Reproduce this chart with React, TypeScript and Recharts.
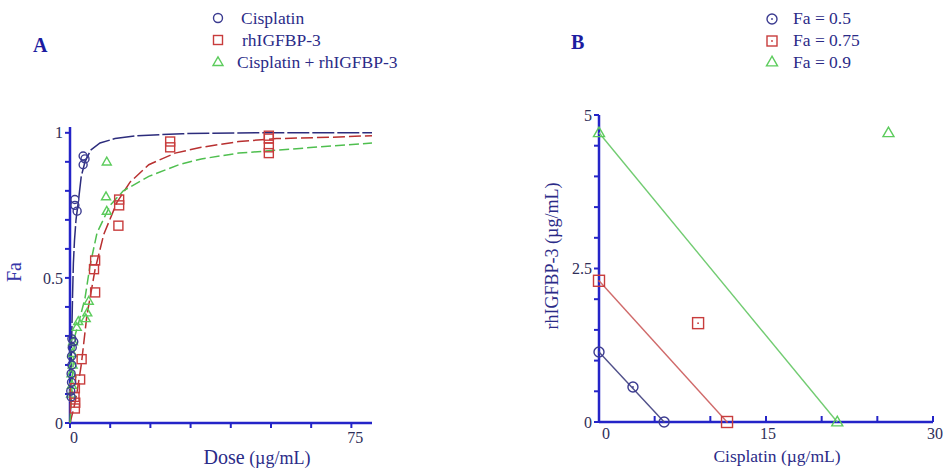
import React from 'react';
import { ScatterChart, Scatter, XAxis, YAxis } from 'recharts';

// ---------- Panel A data (dose µg/mL, Fa) ----------
const cisplatinPoints: [number, number][] = [
  [0.3, 0.09], [0.2, 0.11], [0.4, 0.14], [0.3, 0.17], [0.5, 0.2], [0.4, 0.23],
  [0.6, 0.26], [0.5, 0.29], [1.0, 0.28], [1.3, 0.77], [1.3, 0.75], [1.9, 0.73],
  [3.5, 0.92], [4.0, 0.91], [3.5, 0.89],
];
const rhigfbpPoints: [number, number][] = [
  [1.3, 0.05], [1.4, 0.07], [1.2, 0.09], [1.3, 0.12], [2.7, 0.15], [3.1, 0.22],
  [6.7, 0.56], [6.4, 0.53], [6.7, 0.45], [13.1, 0.77], [13.1, 0.75], [12.9, 0.68],
  [26.7, 0.97], [26.7, 0.95], [53, 0.99], [53, 0.98], [53, 0.95], [53, 0.93],
];
const comboPoints: [number, number][] = [
  [0.3, 0.1], [0.5, 0.13], [0.4, 0.17], [0.7, 0.2], [0.6, 0.24], [0.8, 0.28],
  [1.8, 0.33], [2.2, 0.35], [4.2, 0.36], [4.6, 0.38], [5.0, 0.42],
  [9.8, 0.73], [9.6, 0.78], [9.8, 0.9],
];
const cisplatinCurve: [number, number][] = [
  [0, 0], [0.1, 0.05], [0.3, 0.2], [0.5, 0.32], [0.7, 0.45], [0.9, 0.55], [1.2, 0.63],
  [1.6, 0.7], [2.2, 0.76], [3, 0.85], [4, 0.9], [5.5, 0.94], [8, 0.965], [12, 0.98],
  [18, 0.99], [30, 0.997], [50, 1], [80.5, 1],
];
const rhigfbpCurve: [number, number][] = [
  [0, 0], [1, 0.05], [1.8, 0.1], [3, 0.2], [4.5, 0.37], [6.7, 0.53], [9, 0.65],
  [12.5, 0.76], [16, 0.83], [21, 0.89], [28, 0.93], [35, 0.95], [45, 0.97],
  [55, 0.98], [70, 0.985], [80.5, 0.99],
];
const comboCurve: [number, number][] = [
  [0, 0], [0.2, 0.05], [0.5, 0.12], [0.9, 0.22], [1.3, 0.3], [2.2, 0.34], [4, 0.43],
  [5.3, 0.54], [7.2, 0.655], [10.7, 0.75], [14.2, 0.8], [21, 0.85], [29, 0.89],
  [35, 0.91], [45, 0.93], [55, 0.94], [70, 0.955], [80.5, 0.965],
];
const A_X_TICKS = [0, 10.714, 21.429, 32.143, 42.857, 53.571, 64.286, 75];
const A_X_LABELS = [0, 75];
const A_Y_TICKS = [0, 0.1, 0.2, 0.3, 0.4, 0.5, 0.6, 0.7, 0.8, 0.9, 1];
const A_Y_LABELS = [0, 0.5, 1];

// ---------- Panel B data (cisplatin µg/mL, rhIGFBP-3 µg/mL) ----------
const fa50Points: [number, number][] = [[0, 1.14], [3.05, 0.57], [5.85, 0]];
const fa75Points: [number, number][] = [[0, 2.3], [8.9, 1.61], [11.5, 0]];
const fa90Points: [number, number][] = [[0, 4.71], [26.0, 4.71], [21.4, 0]];
const fa50Line: [number, number][] = [[0, 1.14], [5.85, 0]];
const fa75Line: [number, number][] = [[0, 2.3], [11.5, 0]];
const fa90Line: [number, number][] = [[0, 4.71], [21.4, 0]];
const B_X_TICKS = [0, 5, 10, 15, 20, 25, 30];
const B_X_LABELS = [0, 15, 30];
const B_Y_TICKS = [0, 0.5, 1, 1.5, 2, 2.5, 3, 3.5, 4, 4.5, 5];
const B_Y_LABELS = [0, 2.5, 5];

const toXY = (a: [number, number][]) => a.map(([x, y]) => ({ x, y }));

const AXIS = '#2424c8';
const TICK_TXT = '#2e2e58';
const NAVY_TXT = '#2b2b88';
const C_BLUE = '#3b3b90';
const C_RED = '#c83c3c';
const C_GREEN = '#5ccc5c';
const FONT = '"Liberation Serif", "Times New Roman", serif';

const fmt = (labels: number[]) => (v: number) =>
  labels.some((l) => Math.abs(l - v) < 1e-6) ? String(v) : '';

const Hidden = () => <g />;

const circleShape = (color: string, r: number, dot: boolean) => (p: any) => {
  const { cx, cy } = p;
  if (cx == null || cy == null) return <g />;
  return (
    <g>
      <circle cx={cx} cy={cy} r={r} fill="none" stroke={color} strokeWidth={1.4} />
      {dot && <circle cx={cx} cy={cy} r={0.9} fill={color} />}
    </g>
  );
};
const squareShape = (color: string, s: number, dot: boolean) => (p: any) => {
  const { cx, cy } = p;
  if (cx == null || cy == null) return <g />;
  return (
    <g>
      <rect x={cx - s / 2} y={cy - s / 2} width={s} height={s} fill="none" stroke={color} strokeWidth={1.4} />
      {dot && <circle cx={cx} cy={cy} r={0.9} fill={color} />}
    </g>
  );
};
const triShape = (color: string, s: number) => (p: any) => {
  const { cx, cy } = p;
  if (cx == null || cy == null) return <g />;
  const h = s * 0.87;
  return (
    <polygon
      points={`${cx},${cy - h * 0.6} ${cx - s / 2},${cy + h * 0.4} ${cx + s / 2},${cy + h * 0.4}`}
      fill="none"
      stroke={color}
      strokeWidth={1.4}
    />
  );
};

const BXTick = (props: any) => {
  const { x, y, payload } = props;
  const label = fmt(B_X_LABELS)(payload.value);
  return (
    <g>
      <line x1={x} y1={y} x2={x} y2={y - 6} stroke={AXIS} strokeWidth={2} />
      {label !== '' && (
        <text x={x + (payload.value === 0 ? 7 : 2)} y={y + 17} textAnchor="middle" fontSize={16} fill={TICK_TXT} fontFamily={FONT}>
          {label}
        </text>
      )}
    </g>
  );
};

export default function App() {
  return (
    <div style={{ position: 'absolute', left: 0, top: 0, width: 943, height: 470, background: '#fff', fontFamily: FONT }}>
      {/* Panel A */}
      <div style={{ position: 'absolute', left: 0, top: 0 }}>
        <ScatterChart width={400} height={470} margin={{ top: 127, right: 28, bottom: 7, left: 40 }}>
          <XAxis
            type="number"
            dataKey="x"
            domain={[0, 80.5]}
            ticks={A_X_TICKS}
            interval={0}
            tickFormatter={fmt(A_X_LABELS)}
            axisLine={{ stroke: AXIS, strokeWidth: 2.5 }}
            tickLine={{ stroke: AXIS, strokeWidth: 2 }}
            tickSize={5}
            tickMargin={4}
            height={40}
            tick={{ fontSize: 16, fill: TICK_TXT, fontFamily: FONT, dx: 4 }}
          />
          <YAxis
            type="number"
            dataKey="y"
            domain={[0, 1.02]}
            ticks={A_Y_TICKS}
            interval={0}
            tickFormatter={fmt(A_Y_LABELS)}
            axisLine={{ stroke: AXIS, strokeWidth: 2.5 }}
            tickLine={{ stroke: AXIS, strokeWidth: 2 }}
            tickSize={5}
            tickMargin={2}
            width={30}
            tick={{ fontSize: 16, fill: TICK_TXT, fontFamily: FONT }}
          />
          <Scatter data={toXY(cisplatinCurve)} line={{ stroke: '#2c2c7c', strokeWidth: 1.5, strokeDasharray: '22 3' }} lineType="joint" shape={Hidden} isAnimationActive={false} />
          <Scatter data={toXY(rhigfbpCurve)} line={{ stroke: '#b83030', strokeWidth: 1.5, strokeDasharray: '12 4' }} lineType="joint" shape={Hidden} isAnimationActive={false} />
          <Scatter data={toXY(comboCurve)} line={{ stroke: '#4fbf4f', strokeWidth: 1.5, strokeDasharray: '10 4' }} lineType="joint" shape={Hidden} isAnimationActive={false} />
          <Scatter data={toXY(comboPoints)} shape={triShape(C_GREEN, 9)} isAnimationActive={false} />
          <Scatter data={toXY(rhigfbpPoints)} shape={squareShape(C_RED, 9, false)} isAnimationActive={false} />
          <Scatter data={toXY(cisplatinPoints)} shape={circleShape(C_BLUE, 4, false)} isAnimationActive={false} />
        </ScatterChart>
      </div>

      {/* Panel B */}
      <div style={{ position: 'absolute', left: 520, top: 0 }}>
        <ScatterChart width={423} height={470} margin={{ top: 115, right: 10, bottom: 8, left: 49 }}>
          <XAxis
            type="number"
            dataKey="x"
            domain={[0, 30]}
            ticks={B_X_TICKS}
            interval={0}
            axisLine={{ stroke: AXIS, strokeWidth: 2.5 }}
            tickLine={false}
            tickSize={0}
            tickMargin={0}
            height={40}
            tick={<BXTick />}
          />
          <YAxis
            type="number"
            dataKey="y"
            domain={[0, 5]}
            ticks={B_Y_TICKS}
            interval={0}
            tickFormatter={fmt(B_Y_LABELS)}
            axisLine={{ stroke: AXIS, strokeWidth: 2.5 }}
            tickLine={{ stroke: AXIS, strokeWidth: 2 }}
            tickSize={5}
            tickMargin={2}
            width={30}
            tick={{ fontSize: 16, fill: TICK_TXT, fontFamily: FONT }}
          />
          <Scatter data={toXY(fa50Line)} line={{ stroke: '#50508a', strokeWidth: 1.4 }} lineType="joint" shape={Hidden} isAnimationActive={false} />
          <Scatter data={toXY(fa75Line)} line={{ stroke: '#d06a6a', strokeWidth: 1.4 }} lineType="joint" shape={Hidden} isAnimationActive={false} />
          <Scatter data={toXY(fa90Line)} line={{ stroke: '#72cc72', strokeWidth: 1.4 }} lineType="joint" shape={Hidden} isAnimationActive={false} />
          <Scatter data={toXY(fa50Points)} shape={circleShape(C_BLUE, 5, true)} isAnimationActive={false} />
          <Scatter data={toXY(fa75Points)} shape={squareShape(C_RED, 11, true)} isAnimationActive={false} />
          <Scatter data={toXY(fa90Points)} shape={triShape(C_GREEN, 11)} isAnimationActive={false} />
        </ScatterChart>
      </div>

      {/* Titles, labels and legends */}
      <svg width={943} height={470} style={{ position: 'absolute', left: 0, top: 0, pointerEvents: 'none' }} fontFamily={FONT}>
        <text x={33} y={52} fontSize={20} fontWeight="bold" fill="#1c1ca0">A</text>
        <text x={571} y={49} fontSize={20} fontWeight="bold" fill="#1c1ca0">B</text>

        {/* Legend A */}
        {circleShape(C_BLUE, 4.5, false)({ cx: 218, cy: 18 })}
        {squareShape(C_RED, 9, false)({ cx: 218, cy: 40 })}
        {triShape(C_GREEN, 10)({ cx: 218, cy: 62 })}
        <text x={241} y={24} fontSize={17.5} fill={NAVY_TXT}>Cisplatin</text>
        <text x={242} y={46} fontSize={17.5} fill={NAVY_TXT}>rhIGFBP-3</text>
        <text x={237} y={68} fontSize={17.5} fill={NAVY_TXT}>Cisplatin + rhIGFBP-3</text>

        {/* Legend B */}
        {circleShape(C_BLUE, 5, true)({ cx: 772, cy: 19 })}
        {squareShape(C_RED, 10, true)({ cx: 772, cy: 41 })}
        {triShape(C_GREEN, 11)({ cx: 772, cy: 62 })}
        <text x={793} y={24} fontSize={17.5} fill={NAVY_TXT}>Fa = 0.5</text>
        <text x={793} y={46} fontSize={17.5} fill={NAVY_TXT}>Fa = 0.75</text>
        <text x={793} y={68} fontSize={17.5} fill={NAVY_TXT}>Fa = 0.9</text>

        {/* Axis titles */}
        <text x={21} y={272} fontSize={20} fill="#3636a8" textAnchor="middle" transform="rotate(-90, 21, 272)">Fa</text>
        <text x={257} y={464} textAnchor="middle" fill={NAVY_TXT}>
          <tspan fontSize={20}>Dose</tspan>
          <tspan fontSize={18}> (µg/mL)</tspan>
        </text>
        <text x={777} y={462} textAnchor="middle" fontSize={17.5} fill={NAVY_TXT}>Cisplatin (µg/mL)</text>
        <text x={558} y={256} textAnchor="middle" fontSize={18} fill={NAVY_TXT} transform="rotate(-90, 558, 256)">rhIGFBP-3 (µg/mL)</text>
      </svg>
    </div>
  );
}
